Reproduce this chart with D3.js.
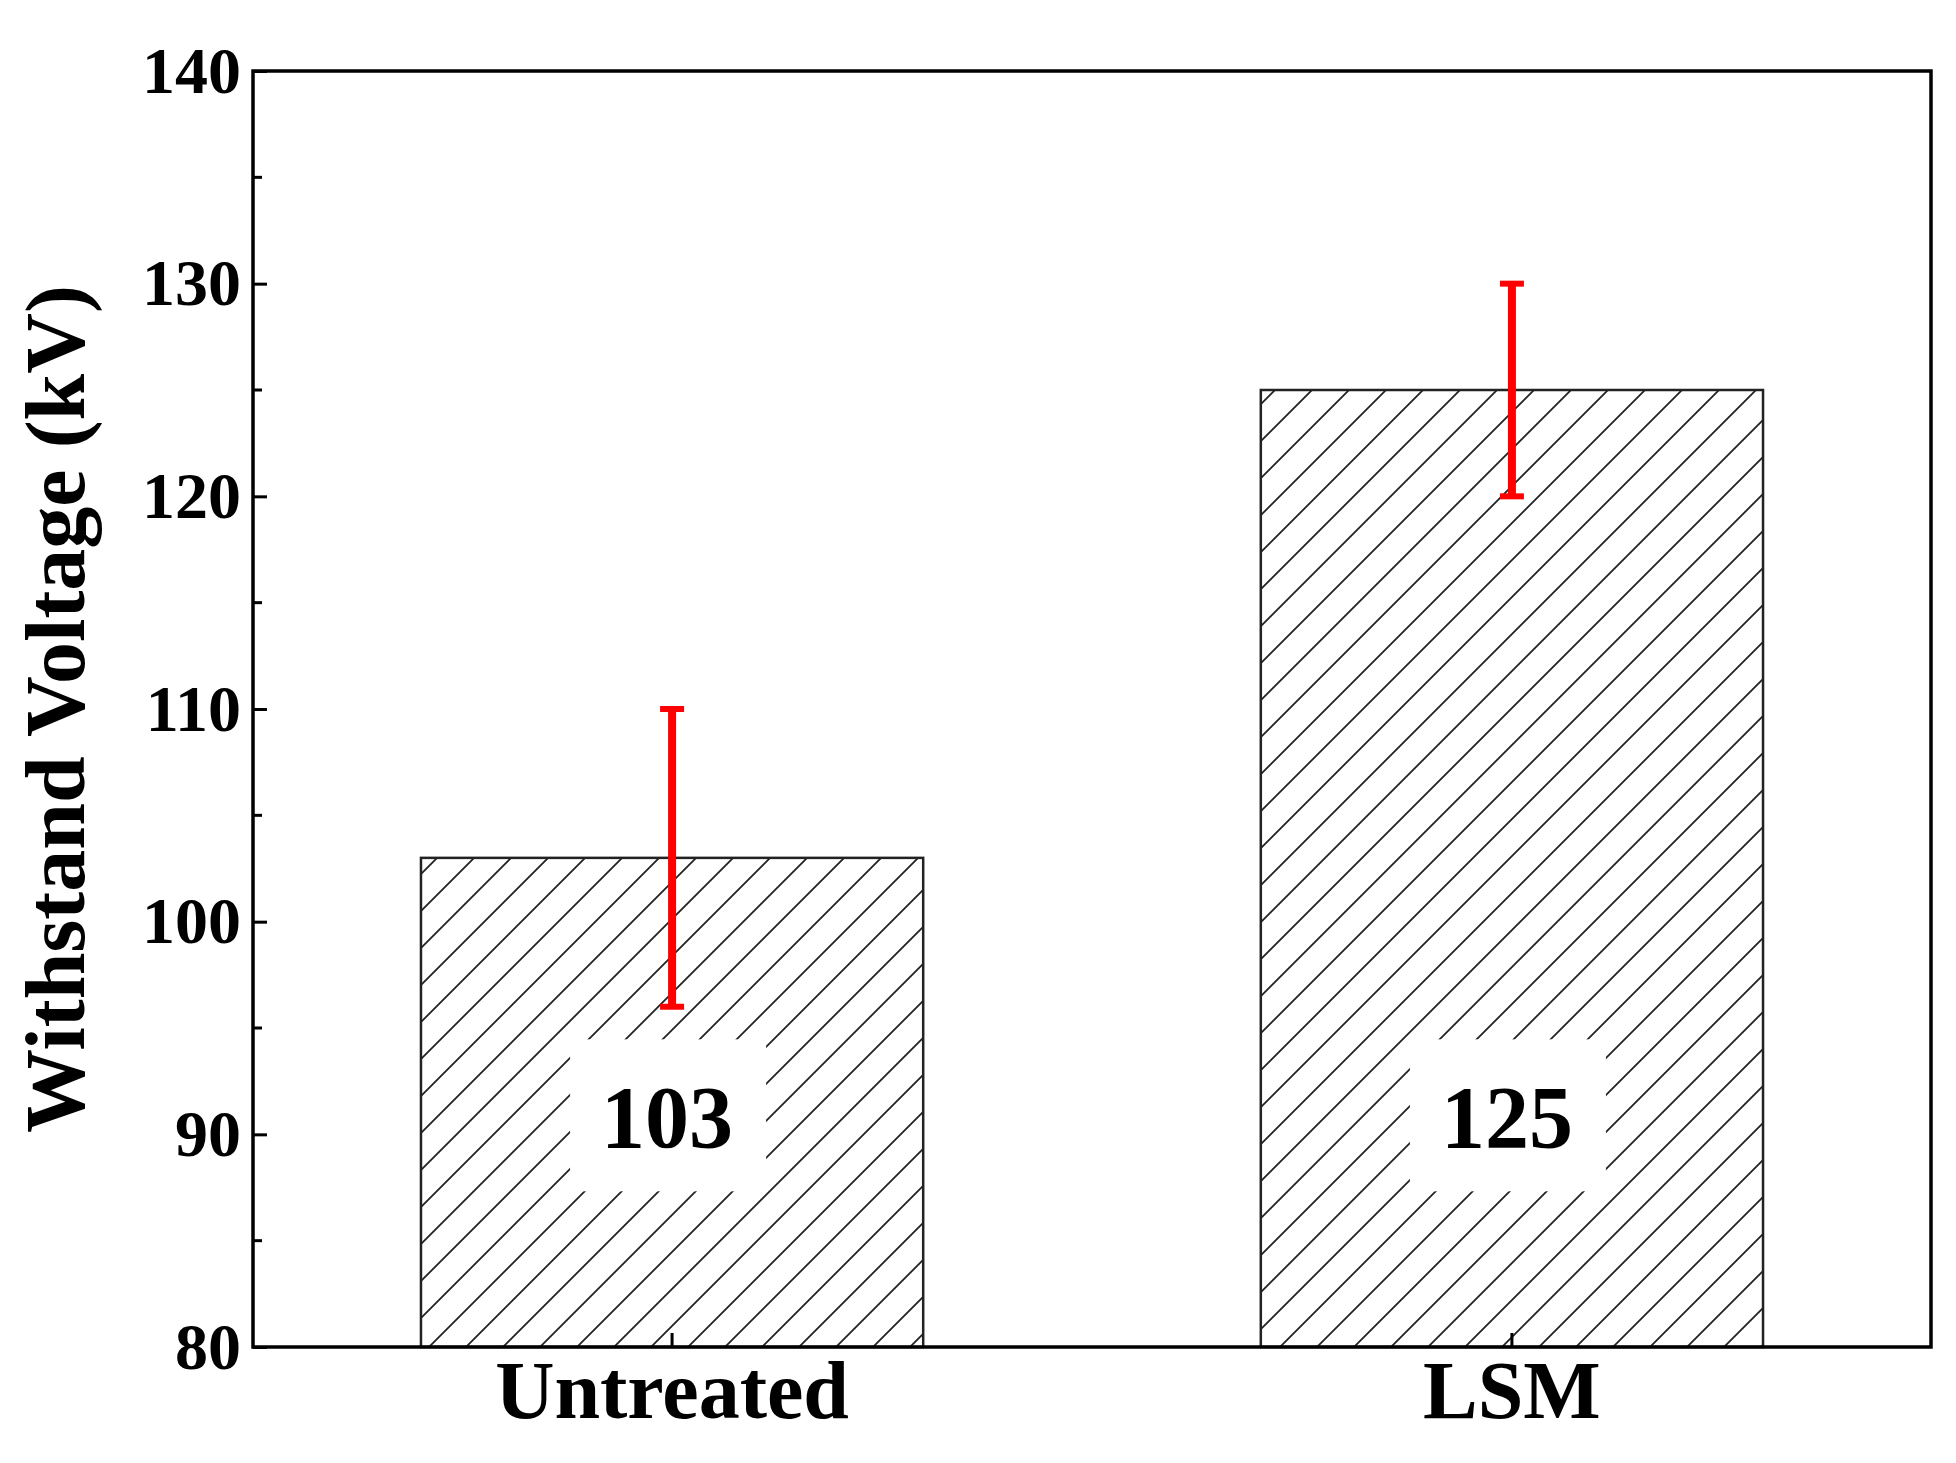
<!DOCTYPE html>
<html><head><meta charset="utf-8">
<script src="https://d3js.org/d3.v7.min.js"></script>
<style>body{margin:0;background:#fff}</style></head>
<body><svg id="c" width="1956" height="1463"></svg>
<script>
const categories = ["Untreated", "LSM"];
const values = [103, 125];
const errLow = [96, 120];
const errHigh = [110, 130];
const yTicks = [80, 90, 100, 110, 120, 130, 140];

const svg = d3.select("#c");
const L = 253, R = 1931, T = 71, B = 1347;
const font = "Liberation Serif, Times New Roman, serif";
const y = d3.scaleLinear().domain([80, 140]).range([B, T]);
const x = d3.scaleBand().domain(categories).range([L, R]).paddingInner(0.402).paddingOuter(0.2);

const defs = svg.append("defs");
const pat = defs.append("pattern").attr("id", "hatch").attr("patternUnits", "userSpaceOnUse")
  .attr("width", 37).attr("height", 37);
pat.append("path").attr("d", "M-5,42 L42,-5 M-5,5 L5,-5 M32,42 L42,32").attr("stroke", "#222").attr("stroke-width", 1.8);

const g = svg.append("g");
g.selectAll("rect.bar").data(categories).join("rect").attr("class", "bar")
  .attr("x", d => x(d)).attr("width", x.bandwidth())
  .attr("y", (d, i) => y(values[i])).attr("height", (d, i) => B - y(values[i]))
  .attr("fill", "url(#hatch)").attr("stroke", "#222").attr("stroke-width", 2.5);

categories.forEach((c, i) => {
  const cx = x(c) + x.bandwidth() / 2;
  const cy = y(90.8);
  g.append("rect").attr("x", cx - 102).attr("y", cy - 78).attr("width", 196).attr("height", 152).attr("fill", "#fff");
  g.append("text").attr("x", cx - 5).attr("y", cy + 30).attr("text-anchor", "middle")
    .attr("font-family", font).attr("font-weight", "bold").attr("font-size", 88).text(values[i]);
});

categories.forEach((c, i) => {
  const cx = x(c) + x.bandwidth() / 2;
  g.append("line").attr("x1", cx).attr("x2", cx).attr("y1", y(errLow[i])).attr("y2", y(errHigh[i]))
    .attr("stroke", "#f00").attr("stroke-width", 8);
  [errLow[i], errHigh[i]].forEach(v => g.append("line").attr("x1", cx - 12).attr("x2", cx + 12)
    .attr("y1", y(v)).attr("y2", y(v)).attr("stroke", "#f00").attr("stroke-width", 6));
});

svg.append("rect").attr("x", L).attr("y", T).attr("width", R - L).attr("height", B - T)
  .attr("fill", "none").attr("stroke", "#000").attr("stroke-width", 3.5);

const ya = svg.append("g").attr("transform", `translate(${L},0)`)
  .call(d3.axisLeft(y).tickValues(yTicks).tickSize(-14).tickPadding(12));
ya.select(".domain").remove();
ya.selectAll("line").attr("stroke-width", 3);
ya.selectAll("text").attr("font-family", font).attr("font-weight", "bold").attr("font-size", 66).attr("fill", "#000");
const minor = d3.range(85, 140, 10);
svg.append("g").selectAll("line").data(minor).join("line")
  .attr("x1", L).attr("x2", L + 9).attr("y1", d => y(d)).attr("y2", d => y(d)).attr("stroke", "#000").attr("stroke-width", 3);

const xa = svg.append("g").attr("transform", `translate(0,${B})`)
  .call(d3.axisBottom(x).tickSize(-14).tickPadding(12));
xa.select(".domain").remove();
xa.selectAll("line").attr("stroke-width", 3);
xa.selectAll("text").attr("font-family", font).attr("font-weight", "bold").attr("font-size", 82).attr("fill", "#000")
  .attr("dy", "0.72em");

svg.append("text").attr("transform", `translate(84,${(T + B) / 2}) rotate(-90)`).attr("text-anchor", "middle")
  .attr("font-family", font).attr("font-weight", "bold").attr("font-size", 84).text("Withstand Voltage (kV)");
</script></body></html>
